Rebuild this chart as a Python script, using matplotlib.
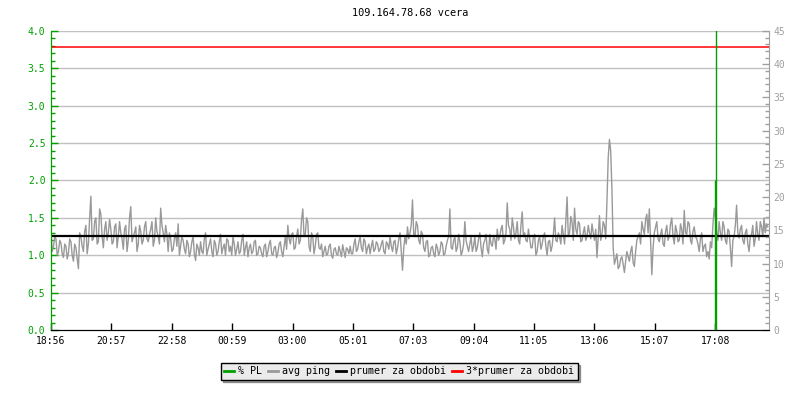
import matplotlib
matplotlib.use("Agg")
import matplotlib.pyplot as plt
from matplotlib.lines import Line2D
from matplotlib.ticker import MultipleLocator

title = "109.164.78.68 vcera"

# avg ping, one value every 5 minutes starting 18:56 (one row = one hour)
ping = [
    1.28, 1.12, 1.22, 1.05, 1.16, 0.97, 1.12, 1.03, 1.18, 0.92, 1.10, 0.82,
    1.25, 1.05, 1.40, 1.15, 1.79, 1.22, 1.50, 1.18, 1.55, 1.10, 1.45, 1.30,
    1.35, 1.18, 1.42, 1.25, 1.30, 1.08, 1.40, 1.20, 1.65, 1.25, 1.38, 1.15,
    1.32, 1.20, 1.45, 1.18, 1.35, 1.12, 1.50, 1.25, 1.63, 1.30, 1.40, 1.05,
    1.22, 1.08, 1.30, 1.42, 1.12, 1.20, 1.02, 1.15, 1.05, 1.25, 0.93, 1.10,
    1.18, 1.02, 1.30, 1.08, 1.22, 0.98, 1.15, 1.05, 1.28, 1.10, 1.00, 1.20,
    1.12, 1.25, 1.00, 1.18, 1.05, 1.28, 1.10, 0.98, 1.15, 1.05, 1.20, 1.02,
    1.10, 0.98, 1.15, 1.05, 1.20, 1.00, 1.12, 1.03, 1.18, 0.98, 1.25, 1.40,
    1.15, 1.30, 1.10, 1.35, 1.20, 1.62, 1.28, 1.45, 1.05, 1.25, 1.12, 1.30,
    1.08, 0.98, 1.12, 1.02, 1.15, 0.96, 1.10, 1.00, 1.05, 1.14, 0.97, 1.08,
    1.12, 1.02, 1.22, 1.08, 1.25, 1.05, 1.18, 1.10, 1.02, 1.20, 1.08, 1.15,
    1.08, 1.20, 1.02, 1.15, 1.25, 1.05, 1.20, 1.10, 1.30, 0.80, 1.25, 1.38,
    1.30, 1.74, 1.25, 1.40, 1.15, 1.28, 1.05, 1.20, 1.00, 1.12, 0.98, 1.10,
    1.05, 1.15, 1.02, 1.20, 1.62, 1.08, 1.25, 1.10, 1.18, 1.05, 1.45, 1.12,
    1.15, 1.05, 1.25, 1.10, 1.30, 0.98, 1.20, 1.08, 1.28, 1.12, 1.22, 1.35,
    1.25, 1.40, 1.20, 1.70, 1.35, 1.50, 1.22, 1.45, 1.15, 1.58, 1.30, 1.18,
    1.22, 1.10, 1.28, 1.05, 1.25, 1.15, 1.30, 1.00, 1.20, 1.12, 1.50, 1.18,
    1.25, 1.40, 1.15, 1.78, 1.30, 1.45, 1.63, 1.28, 1.42, 1.20, 1.38, 1.25,
    1.30, 1.42, 1.20, 0.97, 1.53, 1.28, 1.40, 1.72, 2.55, 1.88, 0.88, 1.02,
    0.85, 0.98, 0.77, 1.05, 0.92, 1.12, 0.85, 1.20, 1.30, 1.45, 1.28, 1.55,
    1.62, 0.74, 1.30, 1.45, 1.18, 1.35, 1.12, 1.40, 1.25, 1.50, 1.15, 1.32,
    1.20, 1.35, 1.60, 1.28, 1.42, 1.15, 1.38, 1.22, 1.05, 1.30, 1.12, 0.98,
    0.95, 1.10, 1.63, 1.30, 1.45, 1.20, 1.38, 1.15, 1.32, 0.85, 1.25, 1.67,
    1.23, 1.40, 1.15, 1.35, 1.05, 1.28, 1.12, 1.45, 1.20, 1.38, 1.50, 1.42,
]
# the samples in between (2.5 minutes after each value above)
ping_mid = [
    1.05, 1.25, 1.00, 1.20, 1.02, 1.15, 0.95, 1.22, 1.00, 1.15, 0.95, 1.30,
    1.12, 1.32, 1.02, 1.50, 1.20, 1.45, 1.15, 1.62, 1.25, 1.35, 1.20, 1.48,
    1.15, 1.38, 1.10, 1.45, 1.22, 1.35, 1.05, 1.50, 1.18, 1.30, 1.05, 1.40,
    1.15, 1.38, 1.22, 1.28, 1.45, 1.20, 1.32, 1.15, 1.40, 1.18, 1.28, 1.30,
    1.05, 1.22, 1.12, 1.00, 1.25, 1.08, 1.20, 0.98, 1.18, 1.02, 1.15, 1.00,
    1.05, 1.22, 1.00, 1.15, 1.05, 1.20, 1.00, 1.18, 1.02, 1.15, 1.22, 1.05,
    1.00, 1.15, 1.08, 1.02, 1.20, 1.00, 1.18, 1.10, 1.02, 1.18, 1.00, 1.12,
    1.02, 1.12, 0.98, 1.15, 1.02, 1.10, 0.97, 1.15, 1.05, 1.12, 1.08, 1.22,
    1.28, 1.08, 1.25, 1.15, 1.48, 1.25, 1.50, 1.12, 1.30, 1.02, 1.28, 1.10,
    1.15, 1.05, 1.00, 1.12, 1.00, 1.08, 1.02, 1.12, 0.98, 1.05, 1.10, 1.02,
    1.02, 1.15, 1.05, 1.18, 1.10, 1.22, 1.02, 1.15, 1.12, 1.05, 1.18, 1.05,
    1.15, 1.05, 1.18, 1.08, 1.12, 1.18, 1.02, 1.22, 1.05, 1.10, 1.15, 1.22,
    1.40, 1.28, 1.45, 1.20, 1.32, 1.10, 1.18, 0.98, 1.10, 1.02, 1.15, 1.00,
    1.18, 1.00, 1.12, 1.25, 1.10, 1.20, 1.05, 1.28, 1.00, 1.15, 1.20, 1.05,
    1.25, 1.12, 1.05, 1.22, 1.10, 1.15, 1.28, 1.02, 1.15, 1.25, 1.08, 1.20,
    1.35, 1.15, 1.30, 1.40, 1.20, 1.38, 1.30, 1.20, 1.40, 1.25, 1.20, 1.35,
    1.10, 1.25, 1.00, 1.20, 1.08, 1.25, 1.12, 1.18, 1.05, 1.28, 1.20, 1.30,
    1.15, 1.28, 1.45, 1.25, 1.52, 1.20, 1.35, 1.45, 1.18, 1.30, 1.20, 1.40,
    1.22, 1.30, 1.35, 1.25, 1.20, 1.45, 1.22, 2.30, 2.40, 1.10, 0.95, 0.82,
    0.95, 0.88, 0.92, 0.98, 1.05, 0.90, 1.05, 1.25, 1.15, 1.35, 1.48, 1.30,
    1.20, 1.10, 1.38, 1.22, 1.28, 1.15, 1.32, 1.20, 1.42, 1.25, 1.40, 1.18,
    1.42, 1.15, 1.30, 1.45, 1.20, 1.32, 1.25, 1.15, 1.22, 1.05, 1.15, 1.05,
    1.18, 1.40, 1.50, 1.20, 1.30, 1.45, 1.20, 1.35, 1.10, 1.20, 1.40, 1.30,
    1.35, 1.20, 1.30, 1.15, 1.25, 1.40, 1.22, 1.28, 1.45, 1.25, 1.30, 1.38,
]

mean_ping = 1.264
triple_mean = 3.792

# packet loss spike (%), right axis
pl_minutes = [1331, 1333]
pl_values = [22.5, 100]

tick_labels = ["18:56", "20:57", "22:58", "00:59", "03:00", "05:01",
               "07:03", "09:04", "11:05", "13:06", "15:07", "17:08"]
tick_step = 121.09

GREEN = "#00a000"
GRAY = "#999999"
AXGRAY = "#a0a0a0"

# merge the two sample sets into one time series
xs, ys = [], []
for i, (a, b) in enumerate(zip(ping, ping_mid)):
    xs += [i * 5, i * 5 + 2.5]
    ys += [a, b]

plt.rcParams["font.family"] = "DejaVu Sans Mono"
plt.rcParams["font.size"] = 7

fig = plt.figure(figsize=(8, 4), dpi=100)
ax = fig.add_axes([51 / 800, 0.175, 718 / 800, 0.7475])
ax2 = ax.twinx()

ax.set_xlim(0, 1440)
ax.set_ylim(0, 4.0)
ax2.set_ylim(0, 45)

for y in [0.5 * k for k in range(1, 9)]:
    ax.axhline(y, color="#c0c0c0", lw=1, zorder=0)

ax.plot(xs, ys, color=GRAY, lw=1.0, zorder=2)
ax.axhline(mean_ping, color="black", lw=1.6, zorder=3)
ax.axhline(triple_mean, color="red", lw=1.1, zorder=3)
ax2.vlines(pl_minutes, 0, pl_values, color=GREEN, lw=1.0, zorder=4)

ax.set_xticks([i * tick_step for i in range(len(tick_labels))])
ax.set_xticklabels(tick_labels)
ax.set_yticks([0.5 * k for k in range(9)])
ax.set_yticklabels(["%.1f" % (0.5 * k) for k in range(9)])
ax.yaxis.set_minor_locator(MultipleLocator(0.1))
ax2.yaxis.set_major_locator(MultipleLocator(5))
ax2.yaxis.set_minor_locator(MultipleLocator(1))

ax.tick_params(axis="x", direction="in", length=5, width=1, colors="black", pad=4)
ax.tick_params(axis="y", which="major", direction="in", length=5, width=1,
               colors=GREEN, pad=4)
ax.tick_params(axis="y", which="minor", direction="in", length=3, width=1, color=GREEN)
ax2.tick_params(axis="y", which="major", direction="in", length=5, width=1,
                colors=AXGRAY, pad=3)
ax2.tick_params(axis="y", which="minor", direction="in", length=3, width=1, color=AXGRAY)

for a in (ax, ax2):
    a.spines["top"].set_visible(False)
    a.spines["bottom"].set_color("black")
ax2.spines["left"].set_color(GREEN)
ax2.spines["right"].set_color(AXGRAY)
ax.spines["left"].set_color(GREEN)
ax.spines["right"].set_visible(False)

fig.text(410 / 800, 1 - 13 / 400, title, ha="center", va="center", fontsize=7.4)

handles = [
    Line2D([], [], color=GREEN, lw=2),
    Line2D([], [], color=GRAY, lw=2),
    Line2D([], [], color="black", lw=2),
    Line2D([], [], color="red", lw=2),
]
labels = ["% PL", "avg ping", "prumer za obdobi", "3*prumer za obdobi"]
leg = fig.legend(handles, labels, loc="center", bbox_to_anchor=(399 / 800, 0.0725),
                 ncol=4, fontsize=7.2, frameon=True, fancybox=False, shadow=True,
                 handlelength=1.0, handletextpad=0.4, columnspacing=0.6,
                 borderpad=0.35, borderaxespad=0)
leg.get_frame().set_facecolor("#ebebeb")
leg.get_frame().set_edgecolor("black")
leg.get_frame().set_linewidth(1)
leg.get_frame().set_alpha(1)

fig.savefig("out.png", dpi=100)
